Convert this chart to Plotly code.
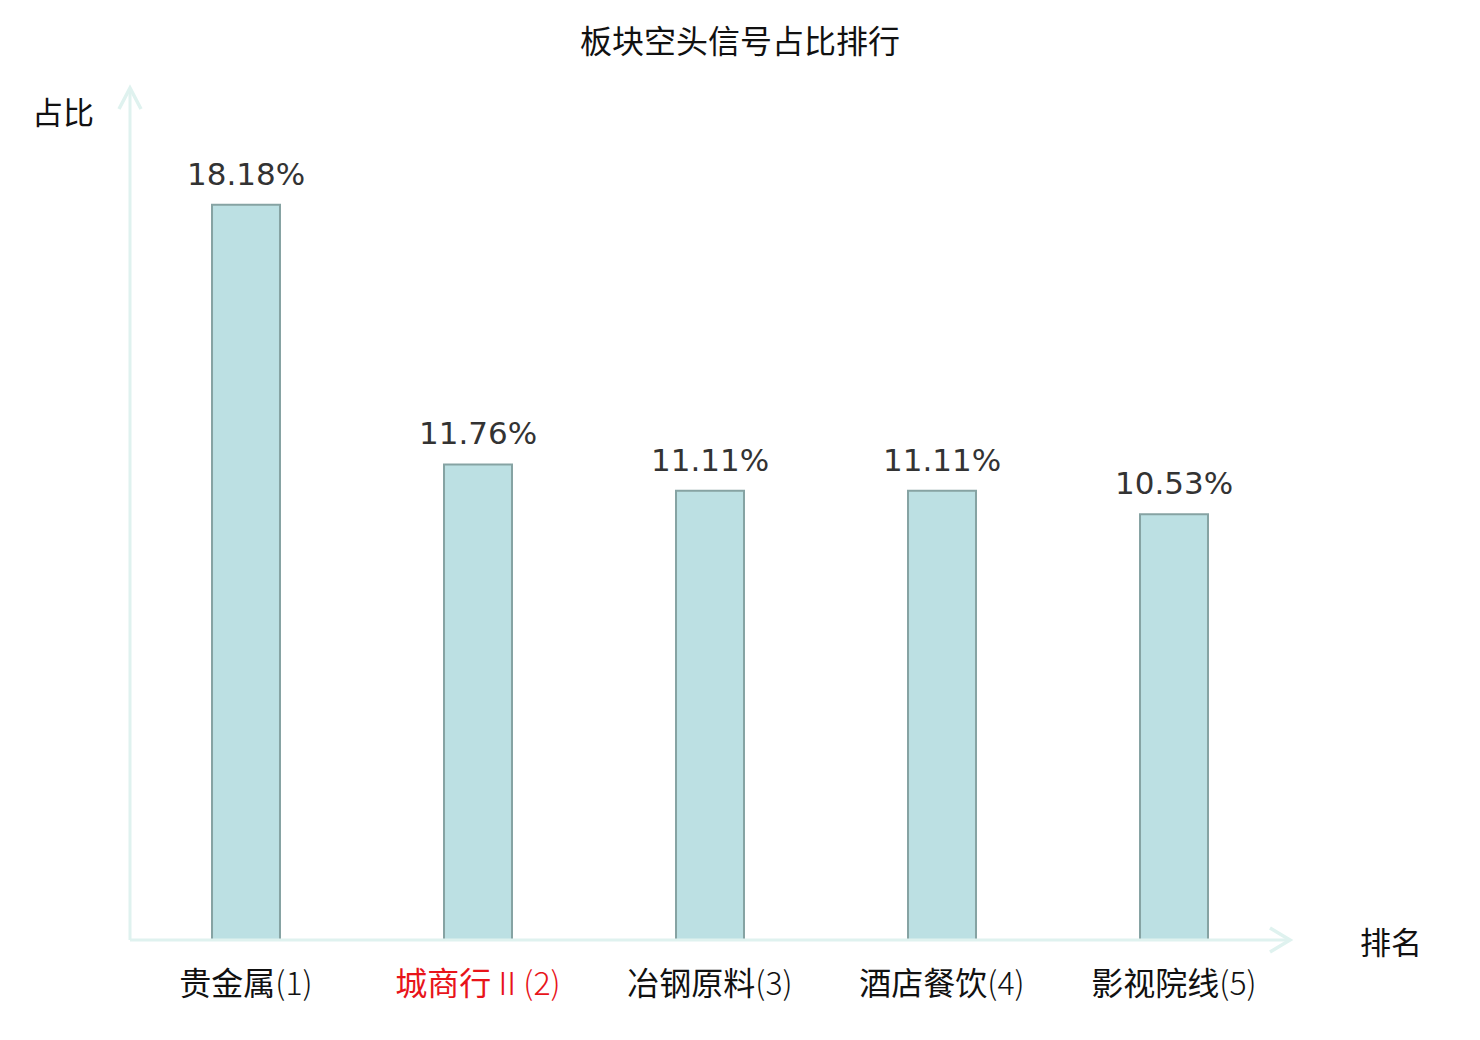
import plotly.graph_objects as go

names = ["贵金属", "城商行", "冶钢原料", "酒店餐饮", "影视院线"]
suffixes = ["(1)", "Ⅱ(2)", "(3)", "(4)", "(5)"]
shares = [18.18, 11.76, 11.11, 11.11, 10.53]
value_labels = ["18.18%", "11.76%", "11.11%", "11.11%", "10.53%"]
highlight = 1  # index of the red tick label

AXIS_COLOR = "#dff2ef"
CJK = "Noto Sans CJK SC"

categories = [n + s for n, s in zip(names, suffixes)]
tick_text = []
for i, (n, s) in enumerate(zip(names, suffixes)):
    label = f'{n}<span style="font-weight:200">{s}</span>'
    if i == highlight:
        label = f'<span style="color:#e8141a">{label}</span>'
    tick_text.append(label)

fig = go.Figure()
fig.add_trace(go.Bar(
    x=categories,
    y=shares,
    width=0.293,
    marker={"color": "#bce0e3", "line": {"color": "#86a3a3", "width": 2}},
    hoverinfo="skip",
))

# value labels above bars
for c, v, t in zip(categories, shares, value_labels):
    fig.add_annotation(
        x=c, y=v, text=t, showarrow=False,
        yanchor="bottom", yshift=11,
        font={"family": "DejaVu Sans", "size": 31, "color": "#333333"},
    )

# axes with open arrow heads
fig.add_shape(type="line", xref="paper", yref="paper", x0=0, y0=0, x1=1, y1=0,
              line={"color": AXIS_COLOR, "width": 3})
fig.add_shape(type="line", xref="paper", yref="paper", x0=0, y0=0, x1=0, y1=1,
              line={"color": AXIS_COLOR, "width": 3})
fig.add_shape(type="path", xref="paper", yref="paper",
              xsizemode="pixel", ysizemode="pixel", xanchor=1, yanchor=0,
              path="M -20 12 L 0 0 L -20 -12",
              line={"color": AXIS_COLOR, "width": 3.5})
fig.add_shape(type="path", xref="paper", yref="paper",
              xsizemode="pixel", ysizemode="pixel", xanchor=0, yanchor=1,
              path="M -11 -21 L 0 0 L 11 -21",
              line={"color": AXIS_COLOR, "width": 3.5})

fig.add_annotation(text="占比", xref="paper", yref="paper", x=-0.058, y=0.974,
                   xanchor="center", yanchor="middle", showarrow=False,
                   font={"family": CJK, "size": 31, "color": "#111111"})
fig.add_annotation(text="排名", xref="paper", yref="paper", x=1.087, y=0.0,
                   xanchor="center", yanchor="middle", showarrow=False,
                   font={"family": CJK, "size": 31, "color": "#111111"})

fig.update_layout(
    width=1464, height=1024,
    margin={"l": 122, "r": 182, "t": 80, "b": 92},
    paper_bgcolor="white", plot_bgcolor="white",
    showlegend=False,
    title={"text": "板块空头信号占比排行", "x": 0.5, "xref": "container",
           "y": 1 - 34 / 1024, "yanchor": "middle",
           "font": {"family": CJK, "size": 32, "color": "#111111"}},
    xaxis={"type": "category", "tickvals": categories, "ticktext": tick_text,
           "showgrid": False, "showline": False, "zeroline": False,
           "ticks": "", "ticklabelstandoff": 22,
           "tickfont": {"family": CJK, "size": 32, "color": "#111111"},
           "range": [-0.5, 4.5]},
    yaxis={"range": [0, 21.07], "showgrid": False, "showline": False,
           "zeroline": False, "showticklabels": False, "ticks": ""},
)

fig.write_html("out.html")
